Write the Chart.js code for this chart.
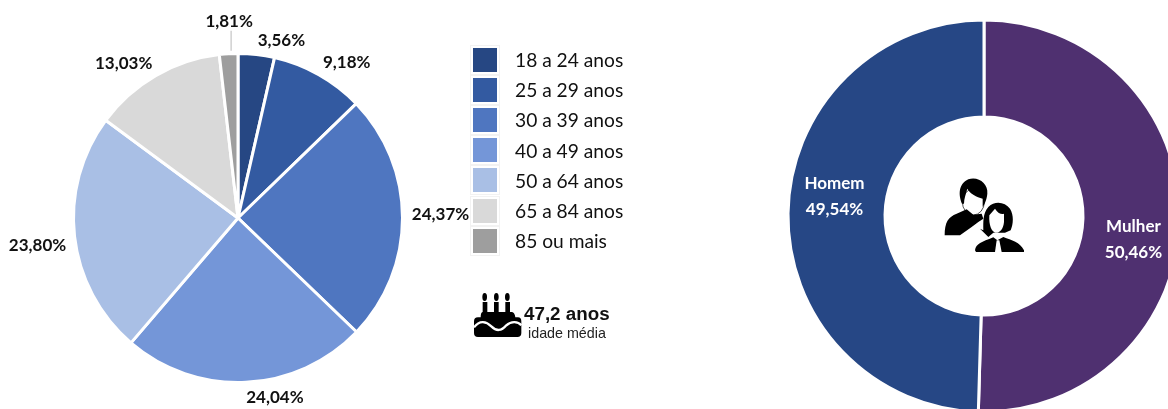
<!DOCTYPE html>
<html lang="pt">
<head>
<meta charset="utf-8">
<title>Idade e sexo</title>
<script src="https://cdn.jsdelivr.net/npm/chart.js@4/dist/chart.umd.min.js"></script>
<style>
  html, body { margin: 0; padding: 0; background: #fff; }
  body { position: relative; width: 1168px; height: 409px; overflow: hidden; }
  canvas { position: absolute; }
  #ageChart { left: 0; top: 0; }
  #sexChart { left: 784px; top: 16px; }
  #legend { position: absolute; left: 473px; top: 44.5px; font: 19.2px Lato, sans-serif; color: #111; }
  .row { display: flex; align-items: center; height: 30.2px; }
  .swatch { width: 24px; height: 24px; margin-right: 18px; outline: 1px solid #f2f2f2; outline-offset: 2px; }
  #cake { position: absolute; left: 468px; top: 288px; }
  #people { position: absolute; left: 940px; top: 172px; }
  #mean { position: absolute; left: 524px; top: 304px; font: bold 18.8px "Liberation Sans", sans-serif; color: #111; line-height: 20px; }
  #meanSub { position: absolute; left: 528px; top: 325px; font: 14.3px "Liberation Sans", sans-serif; color: #222; line-height: 16px; }
</style>
</head>
<body>
<canvas id="ageChart" width="476" height="436"></canvas>
<canvas id="sexChart" width="400" height="400"></canvas>
<div id="legend"></div>

<svg id="cake" width="60" height="56" viewBox="0 0 180 168">
  <ellipse cx="50" cy="27" rx="7" ry="12"/>
  <ellipse cx="85" cy="27" rx="7" ry="12"/>
  <ellipse cx="118" cy="27" rx="7" ry="12"/>
  <path d="M44 42h14v32H44zM78 42h14v32H78zM112 42h14v32h-14z"/>
  <path d="M45 72H130Q140 72 142 88H150Q160 88 160 100V135Q160 147 148 147H30Q18 147 18 135V100Q18 88 30 88H38Q38 72 45 72Z"/>
  <path d="M18 118C35 95 55 100 70 115C85 130 100 130 115 112C130 98 150 100 160 112" fill="none" stroke="#fff" stroke-width="7"/>
</svg>
<div id="mean">47,2 anos</div>
<div id="meanSub">idade média</div>

<svg id="people" width="90" height="84" viewBox="0 0 270 252">
  <ellipse cx="100" cy="90" rx="33" ry="39" fill="#fff" stroke="#000" stroke-width="2"/>
  <path d="M66 95C55 70 55 35 85 22C115 12 145 35 142 65C140 85 132 100 128 105L128 80C110 75 90 65 82 50C78 65 72 80 72 95Z"/>
  <path d="M14 190C14 150 25 135 50 125L80 112L100 128L125 125L130 140L115 150L95 165L60 190Z"/>
  <path d="M130 175C130 150 128 125 145 105C165 85 195 90 210 110C222 130 220 155 212 175L195 182L160 182L145 195L120 170Z"/>
  <path d="M148 130L165 110C175 125 185 128 192 125L192 150C190 175 175 185 165 182C155 178 146 160 148 130Z" fill="#fff"/>
  <path d="M105 235C108 215 125 210 160 196L172 205L190 195C215 205 240 210 252 235L252 240L108 240Z"/>
  <path d="M165 240L170 205L178 205L185 240Z" fill="#fff"/>
</svg>

<script>
// ---- data ----
const ageLabels = ["18 a 24 anos", "25 a 29 anos", "30 a 39 anos", "40 a 49 anos", "50 a 64 anos", "65 a 84 anos", "85 ou mais"];
const ageValues = [3.56, 9.18, 24.37, 24.04, 23.80, 13.03, 1.81];
const sexLabels = ["Mulher", "Homem"];
const sexValues = [50.46, 49.54];

// ---- colours and label nudges ----
const ageColors = ["#264783", "#335AA1", "#4F76C0", "#7496D8", "#A9BFE5", "#D9D9D9", "#9E9E9E"];
const sexColors = ["#4F3070", "#264785"];
const ageNudges = [[25, -14], [28, -12.5], [38, -3], [29, 15], [-37, 9], [-32, -12], [0.5, -32]];
const sexNudges = [[2, 21], [-2, -17]];

function pct(v) {
  return v.toFixed(2).replace(".", ",") + "%";
}

// draws the value labels next to each slice
const sliceLabels = {
  id: "sliceLabels",
  afterDatasetsDraw(chart, args, opts) {
    const ctx = chart.ctx;
    ctx.save();
    ctx.font = "bold 17px Lato, sans-serif";
    ctx.fillStyle = opts.color;
    ctx.textAlign = "center";
    ctx.textBaseline = "middle";
    chart.getDatasetMeta(0).data.forEach((arc, i) => {
      const mid = (arc.startAngle + arc.endAngle) / 2;
      const r = arc.innerRadius + (arc.outerRadius - arc.innerRadius) * opts.anchor;
      const x = arc.x + Math.cos(mid) * r + opts.nudges[i][0];
      const y = arc.y + Math.sin(mid) * r + opts.nudges[i][1];
      const lines = opts.lines(i);
      lines.forEach((t, n) => {
        ctx.fillText(t, x, y + (n - (lines.length - 1) / 2) * 26);
      });
    });
    ctx.restore();
  }
};

// leader line of the smallest slice
const leaderLine = {
  id: "leaderLine",
  afterDatasetsDraw(chart) {
    const arc = chart.getDatasetMeta(0).data[6];
    const mid = (arc.startAngle + arc.endAngle) / 2;
    const x = arc.x + Math.cos(mid) * arc.outerRadius + 2.5;
    const y = arc.y + Math.sin(mid) * arc.outerRadius;
    const ctx = chart.ctx;
    ctx.save();
    ctx.strokeStyle = "#d0d0d0";
    ctx.lineWidth = 1.5;
    ctx.beginPath();
    ctx.moveTo(x, y - 3);
    ctx.lineTo(x, y - 23);
    ctx.stroke();
    ctx.restore();
  }
};

new Chart(document.getElementById("ageChart"), {
  type: "pie",
  plugins: [sliceLabels, leaderLine],
  data: {
    labels: ageLabels,
    datasets: [{ data: ageValues, backgroundColor: ageColors, borderColor: "#fff", borderWidth: 3 }]
  },
  options: {
    responsive: false,
    animation: false,
    layout: { padding: { left: 72, right: 72, top: 52, bottom: 52 } },
    plugins: {
      legend: { display: false },
      tooltip: { enabled: false },
      sliceLabels: { color: "#111", anchor: 1, nudges: ageNudges, lines: i => [pct(ageValues[i])] }
    }
  }
});

new Chart(document.getElementById("sexChart"), {
  type: "doughnut",
  plugins: [sliceLabels],
  data: {
    labels: sexLabels,
    datasets: [{ data: sexValues, backgroundColor: sexColors, borderColor: "#fff", borderWidth: 3 }]
  },
  options: {
    responsive: false,
    animation: false,
    cutout: "50.5%",
    layout: { padding: 2.5 },
    plugins: {
      legend: { display: false },
      tooltip: { enabled: false },
      sliceLabels: { color: "#fff", anchor: 0.5, nudges: sexNudges, lines: i => [sexLabels[i], pct(sexValues[i])] }
    }
  }
});

// legend rows
const legend = document.getElementById("legend");
ageLabels.forEach((name, i) => {
  const row = document.createElement("div");
  row.className = "row";
  const box = document.createElement("div");
  box.className = "swatch";
  box.style.background = ageColors[i];
  row.appendChild(box);
  row.appendChild(document.createTextNode(name));
  legend.appendChild(row);
});
</script>
</body>
</html>
